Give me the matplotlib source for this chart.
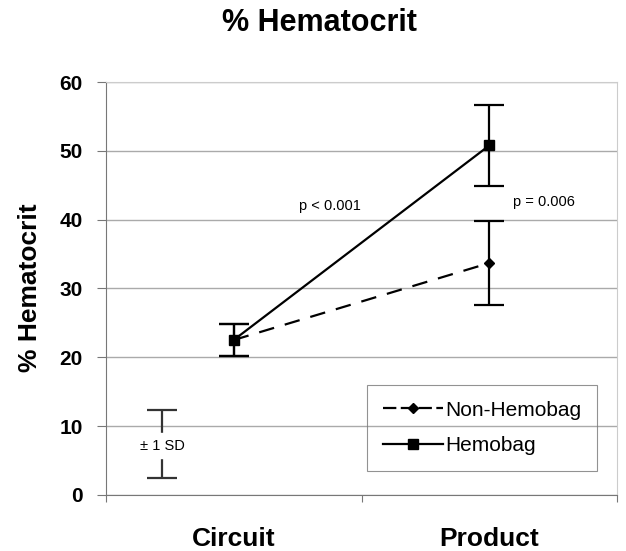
import numpy as np
import matplotlib.pyplot as plt
from matplotlib.lines import Line2D

categories = ['Circuit', 'Product']
non_hemobag = [22.5, 33.7]
non_hemobag_sd = [2.3, 6.1]
hemobag = [22.5, 50.8]
hemobag_sd = [2.3, 5.9]
sd_key_center = 7.4
sd_key_half = 4.9

plt.rcParams['font.family'] = ['Liberation Sans', 'DejaVu Sans']

def main():
	fig = plt.figure(figsize=(6.26, 5.51), dpi=100)
	ax = fig.add_axes([0.169, 0.102, 0.817, 0.749])
	x = np.arange(len(categories)) + 0.5

	ax.errorbar(x, non_hemobag, yerr=non_hemobag_sd, color='black', ls=(0, (7, 5)),
		lw=1.6, marker='D', ms=5, capsize=11, capthick=1.6, elinewidth=1.6)
	ax.errorbar(x, hemobag, yerr=hemobag_sd, color='black', ls='-',
		lw=1.6, marker='s', ms=7, capsize=11, capthick=1.6, elinewidth=1.6)

	# +/- 1 SD key
	ax.errorbar([0.22], [sd_key_center], yerr=[sd_key_half], color='#333333', ls='none',
		capsize=11, capthick=1.6, elinewidth=1.6)
	ax.fill_between([0.12, 0.32], sd_key_center - 2.0, sd_key_center + 1.6, color='white', zorder=3)
	ax.text(0.22, sd_key_center - 0.3, '± 1 SD', ha='center', va='center', fontsize=10.5, zorder=4)

	ax.text(0.877, 42.0, 'p < 0.001', ha='center', va='center', fontsize=10.5)
	ax.text(1.714, 42.6, 'p = 0.006', ha='center', va='center', fontsize=10.5)

	ax.set_xlim(0, 2)
	ax.set_ylim(0, 60)
	ax.set_yticks(range(0, 61, 10))
	ax.set_xticks([0, 1, 2])
	ax.set_xticklabels([])
	ax.set_xticks(x, minor=True)
	ax.set_xticklabels(categories, minor=True, fontsize=19, fontweight='bold')
	ax.tick_params(axis='x', which='minor', length=0, pad=23)
	ax.tick_params(axis='x', which='major', length=5, color='#777777')
	ax.tick_params(axis='y', length=6.5, color='#777777', labelsize=15, pad=10)
	for lab in ax.get_yticklabels():
		lab.set_fontweight('bold')
	ax.grid(axis='y', color='#aaaaaa', lw=1)
	ax.set_axisbelow(True)
	for side in ['top', 'right']:
		ax.spines[side].set_color('#cccccc')
	for side in ['left', 'bottom']:
		ax.spines[side].set_color('#777777')

	fig.text(30 / 626, 0.477, '% Hematocrit', rotation=90, ha='center', va='center',
		fontsize=19, fontweight='bold')
	fig.text(0.51, 0.958, '% Hematocrit', ha='center', va='center',
		fontsize=22, fontweight='bold')

	handles = [
		Line2D([], [], color='black', ls=(0, (6, 2)), lw=1.6, marker='D', ms=5),
		Line2D([], [], color='black', ls='-', lw=1.6, marker='s', ms=7),
	]
	leg = ax.legend(handles, ['Non-Hemobag', 'Hemobag'], loc='lower right',
		bbox_to_anchor=(0.961, 0.058), fontsize=15, frameon=True, fancybox=False,
		edgecolor='#777777', borderpad=0.75, labelspacing=0.8, handlelength=2.9,
		handletextpad=0.1, borderaxespad=0)
	leg.get_frame().set_facecolor('none')
	leg.get_frame().set_linewidth(0.8)

	fig.savefig('out.png', dpi=100)

if __name__ == "__main__":
	main()
